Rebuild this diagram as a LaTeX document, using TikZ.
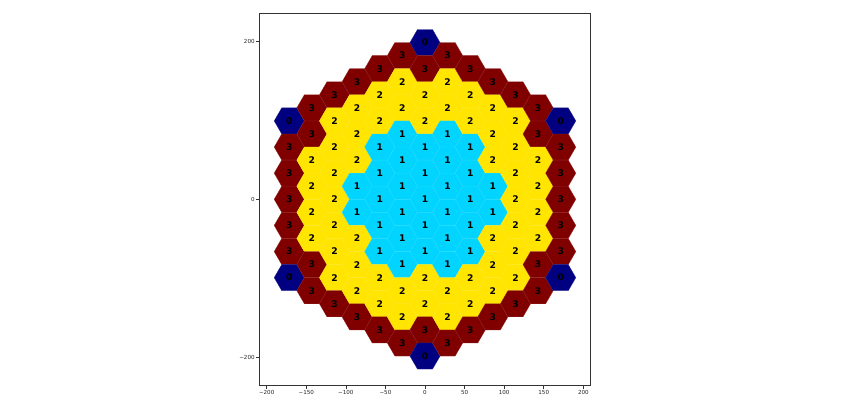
\documentclass[tikz,border=0pt]{standalone}
\usepackage{fontspec}
\newfontfamily\dv{DejaVu Sans}
\usetikzlibrary{shapes.geometric}
\definecolor{c0}{rgb}{0,0,0.5}
\definecolor{c1}{rgb}{0,0.833,1}
\definecolor{c2}{rgb}{1,0.9,0}
\definecolor{c3}{rgb}{0.5,0,0}
\tikzset{
  hexcell/.style={regular polygon, regular polygon sides=6, minimum size=30.16bp,
    inner sep=0pt, line width=0.3bp, text=black,
    font=\dv\bfseries\fontsize{9.2}{10}\selectfont},
  axisline/.style={draw=black!80, line width=0.6bp},
  ticklabel/.style={inner sep=0pt, text=black!85, font=\dv\fontsize{5.6}{7}\selectfont}
}
\begin{document}
\begin{tikzpicture}[x=1bp,y=1bp]
\useasboundingbox (0,0) rectangle (850,419);
\fill[white] (0,0) rectangle (850,419);
\begin{scope}[shift={(425,219.7)}, x=0.7915bp, y=0.7915bp]
\foreach \c/\vals in {
  -6/{0,3,3,3,3,3,0},
  -5/{3,3,2,2,2,2,3,3},
  -4/{3,2,2,2,2,2,2,2,3},
  -3/{3,2,2,2,1,1,2,2,2,3},
  -2/{3,2,2,1,1,1,1,1,2,2,3},
  -1/{3,2,2,1,1,1,1,1,1,2,2,3},
   0/{0,3,2,2,1,1,1,1,1,2,2,3,0},
   1/{3,2,2,1,1,1,1,1,1,2,2,3},
   2/{3,2,2,1,1,1,1,1,2,2,3},
   3/{3,2,2,2,1,1,2,2,2,3},
   4/{3,2,2,2,2,2,2,2,3},
   5/{3,3,2,2,2,2,3,3},
   6/{0,3,3,3,3,3,0}}{
  \pgfmathtruncatemacro\kmax{12-abs(\c)}
  \foreach \v [count=\i from 0] in \vals {
    \pgfmathsetmacro\xx{\c*28.579}
    \pgfmathsetmacro\yy{(\kmax-2*\i)*16.5}
    \node[hexcell, fill=c\v, draw=c\v!85!white] (h\c-\i) at (\xx,\yy) {\v};
  }
}
\end{scope}
% axes frame
\draw[axisline] (259.3,34) rectangle (590.7,406);
% x ticks
\foreach \t [count=\j from -4] in {−200,−150,−100,−50,0,50,100,150,200}{
  \pgfmathsetmacro\tx{425+39.58*\j}
  \draw[axisline] (\tx,34) -- (\tx,30.5);
  \node[ticklabel, anchor=north] (xt\j) at (\tx,29) {\t};
}
% y ticks
\foreach \t/\ty [count=\j] in {200/378, 0/219.7, −200/61.7}{
  \draw[axisline] (259.3,\ty) -- (255.8,\ty);
  \node[ticklabel, anchor=east] (yt\j) at (254.8,\ty) {\t};
}
\end{tikzpicture}
\end{document}
